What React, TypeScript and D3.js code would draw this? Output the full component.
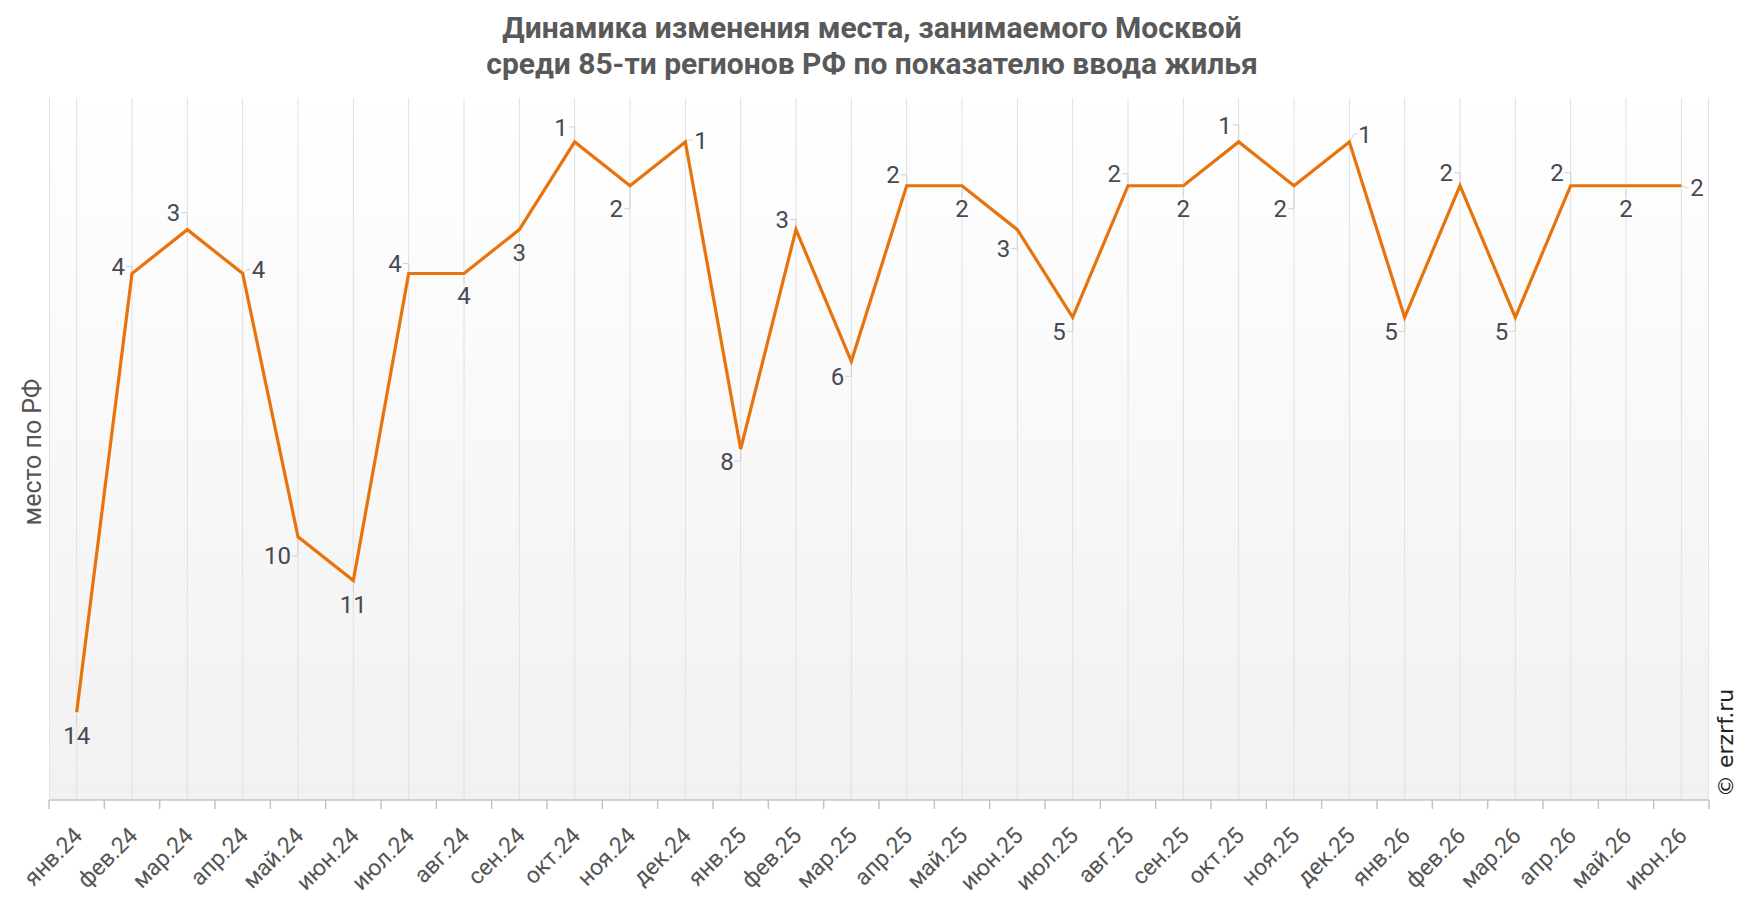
import React from "react";
import * as d3 from "d3";

const months = [
  "янв.24", "фев.24", "мар.24", "апр.24", "май.24", "июн.24",
  "июл.24", "авг.24", "сен.24", "окт.24", "ноя.24", "дек.24",
  "янв.25", "фев.25", "мар.25", "апр.25", "май.25", "июн.25",
  "июл.25", "авг.25", "сен.25", "окт.25", "ноя.25", "дек.25",
  "янв.26", "фев.26", "мар.26", "апр.26", "май.26", "июн.26",
];

// место Москвы в рейтинге
const places = [
  14, 4, 3, 4, 10, 11, 4, 4, 3, 1, 2, 1,
  8, 3, 6, 2, 2, 3, 5, 2, 2, 1, 2, 1,
  5, 2, 5, 2, 2, 2,
];

// где стоит подпись: b - снизу, bl - снизу слева, tl - сверху слева, r - справа
const labelSide = [
  "b", "tl", "tl", "r", "bl", "b", "tl", "b", "b", "tl", "bl", "r",
  "bl", "tl", "bl", "tl", "b", "bl", "bl", "tl", "b", "tl", "bl", "r",
  "bl", "tl", "bl", "tl", "b", "r",
];
const labelShift = [
  23, -7, -17, -4, 19, 24, -10, 22, 23, -15, 23, -2,
  12, -10, 15, -11, 23, 19, 14, -12, 23, -17, 23, -8,
  14, -13, 14, -13, 23, 2,
];

const titleLines = [
  "Динамика изменения места, занимаемого Москвой",
  "среди 85-ти регионов РФ по показателю ввода жилья",
];

const W = 1741;
const H = 912;
const left = 49;
const right = 1709;
const top = 98;
const bottom = 800;

const FONT = "Roboto, 'Noto Sans', sans-serif";
const ORANGE = "#e8720c";
const LABEL = "#454a53";
const LEADER = "#d2d2d2";

export default function App() {
  const x = d3.scaleBand<string>().domain(months).range([left, right]).padding(0);
  const bw = x.bandwidth();
  const cx = (m: string) => (x(m) as number) + bw / 2;
  const y = d3.scaleLinear().domain([0, 16]).range([top, bottom]);

  const line = d3
    .line<number>()
    .x((_, i) => cx(months[i]))
    .y((d) => y(d));

  const boundaries = months.map((m) => x(m) as number).concat([right]);

  return (
    <svg
      width={W}
      height={H}
      style={{ position: "absolute", left: 0, top: 0, background: "#fff" }}
      fontFamily={FONT}
    >
      <defs>
        <linearGradient id="bg" x1="0" y1="0" x2="0" y2="1">
          <stop offset="0" stopColor="#ffffff" />
          <stop offset="1" stopColor="#f1f1f1" />
        </linearGradient>
      </defs>

      {titleLines.map((t, i) => (
        <text
          key={i}
          x={872}
          y={38 + i * 36}
          textAnchor="middle"
          fontSize={30}
          fontWeight="bold"
          fill="#595959"
        >
          {t}
        </text>
      ))}

      <rect x={left} y={top} width={right - left} height={bottom - top} fill="url(#bg)" />

      {/* вертикальная сетка */}
      <line x1={left + 0.5} x2={left + 0.5} y1={top} y2={bottom} stroke="#e2e2e2" />
      <line x1={right - 0.5} x2={right - 0.5} y1={top} y2={bottom} stroke="#e2e2e2" />
      {months.map((m) => (
        <line
          key={m}
          x1={cx(m)}
          x2={cx(m)}
          y1={top}
          y2={bottom}
          stroke="#e0e0e0"
          strokeWidth={1}
        />
      ))}

      {/* ось X */}
      <line x1={left} x2={right} y1={bottom} y2={bottom} stroke="#c4c4c4" strokeWidth={1.5} />
      {boundaries.map((b, i) => (
        <line key={i} x1={b} x2={b} y1={bottom} y2={bottom + 9} stroke="#c4c4c4" strokeWidth={1.5} />
      ))}
      {months.map((m) => (
        <text
          key={m}
          transform={`translate(${cx(m) + 7},${bottom + 37}) rotate(-45)`}
          textAnchor="end"
          fontSize={23}
          fill="#555"
        >
          {m}
        </text>
      ))}

      <text
        transform={`translate(41,452) rotate(-90)`}
        textAnchor="middle"
        fontSize={25}
        fill="#555"
      >
        место по РФ
      </text>

      {/* выноски */}
      {places.map((v, i) => {
        const px = cx(months[i]);
        const py = y(v);
        const s = labelShift[i];
        const side = labelSide[i];
        let d = "";
        if (side === "b") d = `M${px},${py + 3}V${py + s - 12}`;
        else if (side === "bl" || side === "tl") d = `M${px},${py}V${py + s}H${px - 6}`;
        else d = `M${px},${py}L${px + 5},${py + s}H${px + 8}`;
        return <path key={i} d={d} fill="none" stroke={LEADER} strokeWidth={1} />;
      })}

      <path d={line(places) ?? ""} fill="none" stroke={ORANGE} strokeWidth={3.2} strokeLinejoin="miter" />

      {places.map((v, i) => {
        const px = cx(months[i]);
        const py = y(v);
        const s = labelShift[i];
        const side = labelSide[i];
        let tx = px;
        let anchor: "start" | "middle" | "end" = "middle";
        if (side === "bl" || side === "tl") {
          tx = px - 7;
          anchor = "end";
        } else if (side === "r") {
          tx = px + 9;
          anchor = "start";
        }
        return (
          <text
            key={i}
            x={tx}
            y={py + s}
            dy="0.36em"
            textAnchor={anchor}
            fontSize={24}
            fill={LABEL}
          >
            {v}
          </text>
        );
      })}

      <text
        transform={`translate(1733,797) rotate(-90)`}
        fontSize={22}
        fontFamily="'DejaVu Sans', sans-serif"
        fill="#222"
      >
        © erzrf.ru
      </text>
    </svg>
  );
}
